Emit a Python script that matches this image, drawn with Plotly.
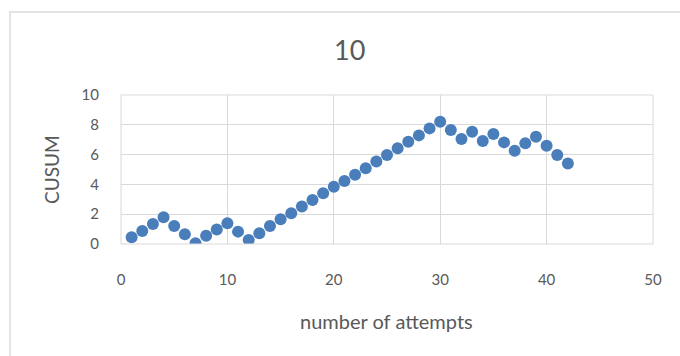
import plotly.graph_objects as go

# CUSUM chart data
attempts = list(range(1, 43))
cusum = [0.45, 0.87, 1.34, 1.79, 1.21, 0.65, 0.05, 0.56, 0.98, 1.39,
         0.83, 0.27, 0.72, 1.21, 1.66, 2.06, 2.51, 2.95, 3.40, 3.85,
         4.23, 4.65, 5.08, 5.53, 5.97, 6.42, 6.87, 7.29, 7.76, 8.21,
         7.65, 7.05, 7.54, 6.91, 7.38, 6.82, 6.26, 6.76, 7.20, 6.60,
         5.97, 5.41]
x_ticks = [0, 10, 20, 30, 40, 50]
y_ticks = [0, 2, 4, 6, 8, 10]

FONT = "Lato"
TEXT = "#595959"
GRID = "#d9d9d9"

fig = go.Figure(go.Scatter(
    x=attempts, y=cusum, mode="markers",
    marker=dict(size=12, color="#4a7ebb", line=dict(width=0)),
    showlegend=False,
))

L, R, T, B = 121, 27, 95, 112
W, H = 680, 356
pw, ph = W - L - R, H - T - B

def px_x(p):
    return (p - L) / pw

def px_y(p):
    return (H - B - p) / ph

fig.update_layout(
    width=W, height=H,
    margin=dict(l=L, r=R, t=T, b=B),
    paper_bgcolor="white", plot_bgcolor="white",
    font=dict(family=FONT, color=TEXT, size=15),
    xaxis=dict(range=[0, 50], tickvals=x_ticks, showgrid=True, gridcolor=GRID,
               gridwidth=1, zeroline=False, showline=False,
               ticks="", ticklabelstandoff=25, tickfont=dict(size=15, color=TEXT),
               fixedrange=True),
    yaxis=dict(range=[0, 10], tickvals=y_ticks, showgrid=True, gridcolor=GRID,
               gridwidth=1, zeroline=False, showline=False,
               ticks="", ticklabelstandoff=21, tickfont=dict(size=15, color=TEXT),
               fixedrange=True),
    shapes=[
        # outer chart frame
        dict(type="rect", xref="paper", yref="paper",
             x0=px_x(10), x1=px_x(700), y0=px_y(372), y1=px_y(12),
             line=dict(color="#e3e3e3", width=2), layer="below"),
        # plot area border
        dict(type="rect", xref="paper", yref="paper", x0=0, x1=1, y0=0, y1=1,
             line=dict(color=GRID, width=1)),
    ],
    annotations=[
        dict(text="10", xref="paper", yref="paper", x=px_x(349), y=px_y(49),
             showarrow=False, font=dict(size=27, color=TEXT, family=FONT),
             xanchor="center", yanchor="middle"),
        dict(text="number of attempts", xref="paper", yref="paper",
             x=px_x(386), y=px_y(321), showarrow=False,
             font=dict(size=20, color=TEXT, family=FONT),
             xanchor="center", yanchor="middle"),
        dict(text="CUSUM", xref="paper", yref="paper",
             x=px_x(51), y=px_y(170), showarrow=False, textangle=-90,
             font=dict(size=19, color=TEXT, family=FONT),
             xanchor="center", yanchor="middle"),
    ],
)

fig.write_html("out.html")
